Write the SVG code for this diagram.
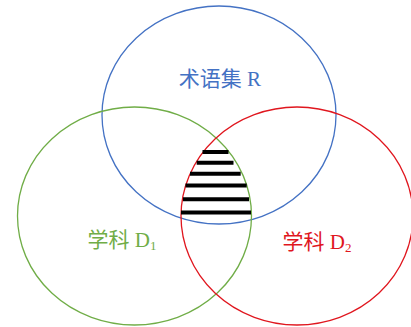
<svg xmlns="http://www.w3.org/2000/svg" width="411" height="327" viewBox="0 0 411 327">
<style>
.ring{fill:none;stroke-width:1.3}
.lbl{font-family:"Liberation Serif","Noto Sans CJK SC",serif;font-size:21px;text-anchor:middle}
.sub{font-size:13px}
.hatch line{stroke:#000;stroke-width:4}
</style>
<rect width="411" height="327" fill="#fff"/>
<g id="R">
<ellipse class="ring" cx="219" cy="115" rx="117" ry="109" stroke="#4472C4"/>
<text class="lbl" x="220" y="86" fill="#4472C4">术语集 R</text>
</g>
<g id="D1">
<ellipse class="ring" cx="134.5" cy="216" rx="117" ry="109" stroke="#70AD47"/>
<text class="lbl" x="122" y="247" fill="#70AD47">学科 D<tspan class="sub" dy="3">1</tspan></text>
</g>
<g id="D2">
<ellipse class="ring" cx="297" cy="216" rx="116" ry="109" stroke="#E0161E"/>
<text class="lbl" x="317" y="249" fill="#E0161E">学科 D<tspan class="sub" dy="3">2</tspan></text>
</g>
<g id="intersection" class="hatch">
<line x1="202.5" y1="152" x2="228.5" y2="152"/>
<line x1="196.7" y1="162.7" x2="233.5" y2="162.7"/>
<line x1="190" y1="173.7" x2="240.7" y2="173.7"/>
<line x1="185.5" y1="185.5" x2="246.7" y2="185.5"/>
<line x1="183" y1="199.2" x2="249" y2="199.2"/>
<line x1="181" y1="212.6" x2="251" y2="212.6"/>
</g>
</svg>
